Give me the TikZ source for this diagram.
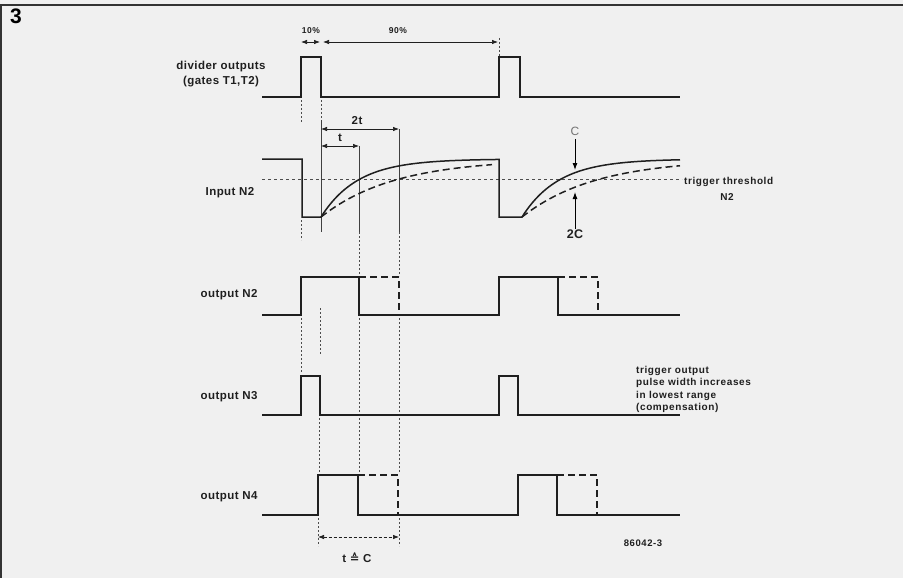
\documentclass[tikz,border=0pt]{standalone}
\usepackage{fontspec}
\setmainfont{Liberation Sans}
\newfontfamily\lblfont{Liberation Sans}[LetterSpace=4]
\newfontfamily\notefont{Liberation Sans}[LetterSpace=6]
\newfontfamily\symfont{DejaVu Sans}
\usepackage{amsmath}
\usepackage{amssymb}
\usetikzlibrary{arrows.meta}

\tikzset{
	wave/.style={line width=1.5pt, line join=miter, color=black!88},
	wavedash/.style={wave, dash pattern=on 7pt off 4pt},
	guide/.style={line width=0.5pt, dash pattern=on 2pt off 2pt, color=black!70},
	guidesolid/.style={line width=0.5pt, color=black!75},
	dim/.style={line width=0.7pt, {Latex[length=6pt,width=4.5pt]}-{Latex[length=6pt,width=4.5pt]}, color=black!88},
	lbl/.style={font=\lblfont\bfseries\fontsize{11.5}{15}\selectfont, text=black!88, inner sep=0pt},
	note/.style={font=\notefont\bfseries\fontsize{10}{12.5}\selectfont, text=black!88, inner sep=0pt, align=left},
}

\begin{document}
\begin{tikzpicture}[x=1pt, y=-1pt]
				\useasboundingbox (0,0) rectangle (903,578);
				\fill[black!6] (0,0) rectangle (903,578);
				\draw[line width=1.5pt, black!80] (1,578) -- (1,5) -- (903,5);
				\node[font=\bfseries\fontsize{21}{21}\selectfont, inner sep=0pt] (fig) at (16,16) {3};

				\node[lbl, align=center] (divlbl) at (221,74) {divider outputs\\(gates T1,T2)};
				\node[lbl] (inlbl) at (230,193) {Input N2};
				\node[lbl] (outtwolbl) at (229,295) {output N2};
				\node[lbl] (outthreelbl) at (229,397) {output N3};
				\node[lbl] (outfourlbl) at (229,497) {output N4};

				\node[note, font=\notefont\bfseries\fontsize{8.5}{9}\selectfont] (tenlbl) at (311,31) {10\%};
				\node[note, font=\notefont\bfseries\fontsize{8.5}{9}\selectfont] (ninetylbl) at (398,31) {90\%};
				\draw[dim] (301,42) -- (320,42);
				\draw[dim] (323,42) -- (498,42);
				\draw[guide] (499,38) -- (499,56);

				\draw[wave] (262,97) -- (301,97) -- (301,57) -- (321,57) -- (321,97) -- (499,97) -- (499,57) -- (520,57) -- (520,97) -- (680,97);

				\draw[guide] (301,100) -- (301,122);
				\draw[guide] (321,100) -- (321,120);
				\draw[guidesolid] (321,120) -- (321,232);
				\draw[guidesolid] (359,146) -- (359,232);
				\draw[guidesolid] (399,129) -- (399,232);
				\draw[guide] (301,220) -- (301,240);
				\draw[guide] (359,232) -- (359,276);
				\draw[guide] (399,232) -- (399,276);

				\draw[dim] (321,129) -- (399,129);
				\draw[dim] (321,146) -- (359,146);
				\node[lbl] (twotlbl) at (357,121) {2t};
				\node[lbl] (tlbl) at (340,138) {t};

				\draw[line width=0.5pt, dashed, black!70] (262,179) -- (682,179);
				\draw[wave] (262,159) -- (302,159) -- (302,217) -- (321,217) -- plot[domain=321:499, samples=80] (\x,{217-58*(1-exp(-(\x-321)/36.7))}) -- (499,217) -- (522,217) -- plot[domain=522:680, samples=60] (\x,{217-58*(1-exp(-(\x-522)/36.7))});
				\draw[wavedash] plot[domain=321:492, samples=60] (\x,{217-58*(1-exp(-(\x-321)/73.4))});
				\draw[wavedash] plot[domain=522:680, samples=60] (\x,{217-58*(1-exp(-(\x-522)/73.4))});

				\node[note, anchor=west] (thrlbl) at (684,182) {trigger threshold};
				\node[note] (thrnlbl) at (727,197) {N2};
				\node[font=\fontsize{12}{12}\selectfont, text=black!55] (clbl) at (575,131) {C};
				\node[lbl, font=\lblfont\bfseries\fontsize{12.5}{13}\selectfont] (cclbl) at (575,234) {2C};
				\draw[line width=0.9pt, -{Latex[length=7pt,width=5pt]}] (clbl) -- (575,170);
				\draw[line width=0.9pt, -{Latex[length=7pt,width=5pt]}] (cclbl) -- (575,192);

				\draw[wave] (262,315) -- (301,315) -- (301,277) -- (359,277) -- (359,315) -- (499,315) -- (499,277) -- (558,277) -- (558,315) -- (680,315);
				\draw[wavedash] (359,277) -- (399,277) -- (399,315);
				\draw[wavedash] (558,277) -- (598,277) -- (598,315);

				\draw[guide] (301,318) -- (301,372);
				\draw[guide] (320,308) -- (320,355);
				\draw[guide] (359,318) -- (359,473);
				\draw[guide] (399,318) -- (399,473);

				\draw[wave] (262,415) -- (301,415) -- (301,376) -- (320,376) -- (320,415) -- (499,415) -- (499,376) -- (518,376) -- (518,415) -- (680,415);
				\node[note, anchor=north west] (trglbl) at (636,366) {trigger output\\pulse width increases\\in lowest range\\(compensation)};

				\draw[guide] (319,418) -- (319,473);

				\draw[wave] (262,515) -- (318,515) -- (318,475) -- (358,475) -- (358,515) -- (518,515) -- (518,475) -- (557,475) -- (557,515) -- (680,515);
				\draw[wavedash] (358,475) -- (398,475) -- (398,515);
				\draw[wavedash] (557,475) -- (597,475) -- (597,515);

				\draw[guide] (318,518) -- (318,546);
				\draw[guide] (399,518) -- (399,546);
				\draw[dim, dash pattern=on 3pt off 2pt] (318,537) -- (399,537);
				\node[lbl] (tclbl) at (357,558) {t {\symfont ≙} C};
				\node[note, font=\notefont\bfseries\fontsize{9.5}{10}\selectfont] (reflbl) at (643,543) {86042-3};
			\end{tikzpicture}
\end{document}
